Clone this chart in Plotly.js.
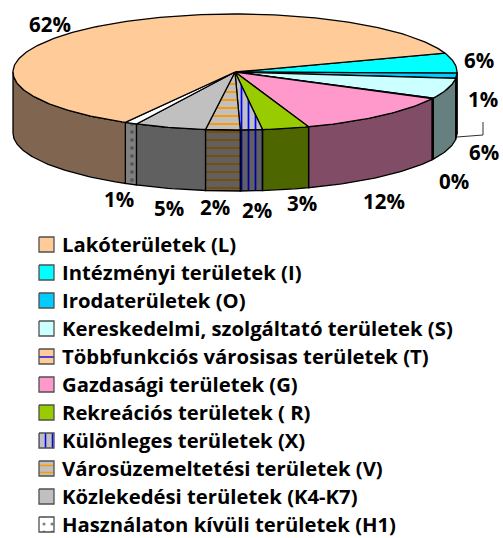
<!DOCTYPE html>
<html><head><meta charset="utf-8">
<script src="https://cdn.plot.ly/plotly-3.0.1.min.js"></script>
<style>html,body{margin:0;padding:0;background:#fff}#c{width:503px;height:538px}</style>
</head><body><div id="c"></div>
<script>
// Data
const categories = ["Lakóterületek (L)","Intézményi területek (I)","Irodaterületek (O)","Kereskedelmi, szolgáltató területek (S)","Többfunkciós városisas területek (T)","Gazdasági területek (G)","Rekreációs területek ( R)","Különleges területek (X)","Városüzemeltetési területek (V)","Közlekedési területek (K4-K7)","Használaton kívüli területek (H1)"];
const values = [61.5,5.6,1.4,5.7,0.2,12,3.4,1.6,2.5,5.2,0.9];
const pctLabels = ["62%","6%","1%","6%","0%","12%","3%","2%","2%","5%","1%"];
const topColors = ["#FFCC99","#00FFFF","#00CCFF","#CCFFFF","#FFCC99","#FF99CC","#99CC00","#C0C0C0","#C0C0C0","#C0C0C0","#FFFFFF"];
const sideColors = ["#806650","#008080","#0A4A66","#668080","#806650","#804C66","#4D6600","#606060","#606060","#606060","#808080"];
const patternShape = ["","","","","-","","","|","-","","."];
const topPatternFg = ["","","","","#0000FF","","","#0000FF","#FF9900","","#FFFFFF"];
const sidePatternFg = ["","","","","#000080","","","#0000A0","#804D00","","#5A5A5A"];
const swatchPatternFg = ["","","","","#0000FF","","","#0000FF","#FF9900","","#808080"];
const swatchPatternSize = [7,7,7,7,14,7,7,7,7,7,8];
const labelX = [50,479,483,484,454,384,302,257,215,169,119];
const labelY = [24,60,99,152,181,201,203,210,207,208,199];
const leaderX = [483,483,457];
const leaderY = [122,135,137];

// Pie geometry
const cx = 235, cy = 72, rx = 222, ry = 58, depth = 61, startDeg = 19;
const rad = d => d * Math.PI / 180;
const total = values.reduce((a,b)=>a+b,0);
const lineCol = "#000000", lineW = 1.3;
const traces = [];

function pattern(shape, fg, bg, size, sol){
  return shape ? {shape:shape, fgcolor:fg, bgcolor:bg, size:size, solidity:sol} : undefined;
}
function poly(xs, ys, fill, pat, w, col){
  const t = {type:"scatter", mode:"lines", x:xs, y:ys, fill:"toself", fillcolor:fill,
    line:{color:col||lineCol, width:w===undefined?lineW:w}, hoverinfo:"skip", showlegend:false};
  if(pat) t.fillpattern = pat;
  traces.push(t);
}
function arc(a,b){
  const pts = [], n = Math.max(2, Math.ceil(Math.abs(a-b)/1));
  for(let i=0;i<=n;i++){ pts.push(a+(b-a)*i/n); }
  return pts;
}

// slice angular ranges (clockwise from I, with L last)
const order = [1,2,3,4,5,6,7,8,9,10,0];
let ang = startDeg;
const ranges = {};
order.forEach(i=>{ const sweep = values[i]/total*360; ranges[i]=[ang,ang-sweep]; ang-=sweep; });

// sides (only the front half of the rim is visible)
order.forEach(i=>{
  const [a,b] = ranges[i];
  const hi = Math.min(a,0), lo = Math.max(b,-180);
  if(hi<=lo) return;
  const ts = arc(hi,lo);
  const xs = [], ys = [];
  ts.forEach(t=>{xs.push(cx+rx*Math.cos(rad(t))); ys.push(cy-ry*Math.sin(rad(t)));});
  ts.slice().reverse().forEach(t=>{xs.push(cx+rx*Math.cos(rad(t))); ys.push(cy-ry*Math.sin(rad(t))+depth);});
  xs.push(xs[0]); ys.push(ys[0]);
  poly(xs,ys,sideColors[i],pattern(patternShape[i],sidePatternFg[i],sideColors[i],patternShape[i]==="."?8:(patternShape[i]==="|"?7:8),patternShape[i]==="."?0.2:0.25));
});
// top
order.forEach(i=>{
  const [a,b] = ranges[i];
  const xs=[cx], ys=[cy];
  arc(a,b).forEach(t=>{xs.push(cx+rx*Math.cos(rad(t))); ys.push(cy-ry*Math.sin(rad(t)));});
  xs.push(cx); ys.push(cy);
  poly(xs,ys,topColors[i],pattern(patternShape[i],topPatternFg[i],topColors[i],patternShape[i]==="."?8:(patternShape[i]==="|"?7:8),patternShape[i]==="."?0.1:0.25));
});
// leader line
traces.push({type:"scatter",mode:"lines",x:leaderX,y:leaderY,line:{color:"#303030",width:1},hoverinfo:"skip",showlegend:false});

// legend swatches
const swX = 39, swSize = 15, swY0 = 237, rowH = 28, txtY0 = 244;
categories.forEach((c,i)=>{
  const y = swY0 + i*rowH;
  poly([swX,swX+swSize,swX+swSize,swX,swX],[y,y,y+swSize,y+swSize,y],topColors[i],
    pattern(patternShape[i],swatchPatternFg[i],topColors[i],swatchPatternSize[i],patternShape[i]==="."?0.12:(swatchPatternSize[i]===14?0.1:0.22)),1.3,"#505050");
});

const fontFam = "'Open Sans', sans-serif";
const annotations = [];
pctLabels.forEach((s,i)=>annotations.push({xref:"x",yref:"y",x:labelX[i],y:labelY[i],text:"<b>"+s+"</b>",showarrow:false,xanchor:"center",yanchor:"middle",font:{family:fontFam,size:20.5,color:"#000"}}));
categories.forEach((c,i)=>annotations.push({xref:"x",yref:"y",x:60,y:txtY0+i*rowH,text:"<b>"+c+"</b>",showarrow:false,xanchor:"left",yanchor:"middle",font:{family:fontFam,size:20.3,color:"#000"}}));

Plotly.newPlot("c",traces,{
  width:503,height:538,margin:{l:0,r:0,t:0,b:0},paper_bgcolor:"#fff",plot_bgcolor:"#fff",showlegend:false,hovermode:false,
  xaxis:{range:[0,503],visible:false,fixedrange:true},
  yaxis:{range:[538,0],visible:false,fixedrange:true},
  annotations:annotations
},{displayModeBar:false,staticPlot:true});
</script></body></html>
